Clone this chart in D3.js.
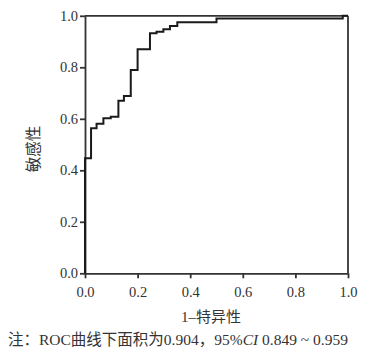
<!DOCTYPE html>
<html lang="zh">
<head>
<meta charset="UTF-8">
<script src="https://d3js.org/d3.v7.min.js"></script>
<style>
  body { margin: 0; background: #fff; }
  text { font-family: "Liberation Serif", "Noto Sans CJK SC", serif; fill: #333; }
  .tick line, .domain { stroke: #333; stroke-width: 1.8; }
  .frame { stroke: #333; stroke-width: 1.8; }
</style>
</head>
<body>
<svg id="roc" width="388" height="355"></svg>
<script>

// ROC curve points (1-specificity, sensitivity)
const fpr = [0, 0, 0.023, 0.044, 0.070, 0.098, 0.127, 0.148, 0.174, 0.200, 0.247, 0.272, 0.298, 0.323, 0.351, 0.500, 0.980, 1.0]
const tpr = [0, 0.447, 0.563, 0.581, 0.602, 0.608, 0.670, 0.689, 0.790, 0.870, 0.932, 0.938, 0.948, 0.960, 0.975, 0.990, 1.0, 1.0]
const ticks = [0, 0.2, 0.4, 0.6, 0.8, 1.0]

let x = d3.scaleLinear().domain([0, 1]).range([85, 348])
let y = d3.scaleLinear().domain([0, 1]).range([273.3, 15.8])

let svg = d3.select('#roc')

// box lines top + right
svg.append('line').attr('class', 'frame')
    .attr('x1', x(0)).attr('x2', x(1)).attr('y1', y(1)).attr('y2', y(1))
svg.append('line').attr('class', 'frame')
    .attr('x1', x(1)).attr('x2', x(1)).attr('y1', y(1)).attr('y2', y(0))

svg.append('g')
    .attr('transform', `translate(0,${y(0)})`)
    .call(d3.axisBottom(x).tickValues(ticks).tickFormat(d3.format('.1f')).tickSize(5).tickSizeOuter(0))
    .call(g => g.selectAll('.tick text').attr('dy', 0).attr('y', 24).style('font-size', '14.5px'))

svg.append('g')
    .attr('transform', `translate(${x(0)},0)`)
    .call(d3.axisLeft(y).tickValues(ticks).tickFormat(d3.format('.1f')).tickSize(5).tickSizeOuter(0))
    .call(g => g.selectAll('.tick text').attr('x', -7).style('font-size', '14.5px'))

// curve
let pts = fpr.map((f, i) => [f, tpr[i]])
svg.append('path')
    .datum(pts)
    .attr('fill', 'none')
    .attr('stroke', '#1a1a1a')
    .attr('stroke-width', 2)
    .attr('d', d3.line().x(d => x(d[0])).y(d => y(d[1])).curve(d3.curveStepAfter))

// axis titles
svg.append('text')
    .attr('transform', `translate(39,149) rotate(-90)`)
    .attr('text-anchor', 'middle')
    .style('font-size', '15.5px')
    .text('敏感性')

svg.append('text')
    .attr('x', 211).attr('y', 322)
    .attr('text-anchor', 'middle')
    .style('font-size', '15px')
    .text('1–特异性')

// note
let note = svg.append('text')
    .attr('x', 8).attr('y', 345)
    .style('font-size', '15.5px')
note.append('tspan').text('注：ROC曲线下面积为0.904，95%')
note.append('tspan').style('font-style', 'italic').text('CI')
note.append('tspan').text(' 0.849 ~ 0.959')

</script>
</body>
</html>
